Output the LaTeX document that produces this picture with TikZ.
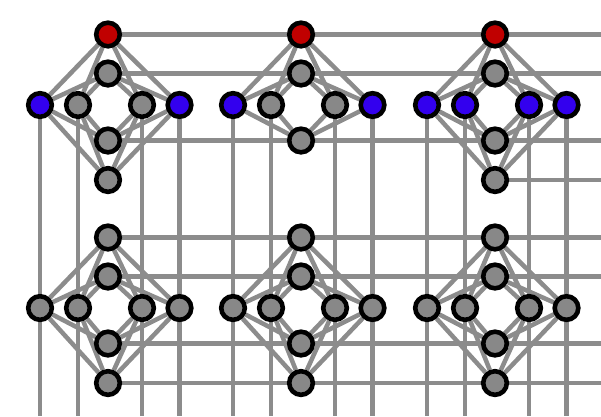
\documentclass[tikz,border=0pt]{standalone}
\usepackage{xcolor}
\usetikzlibrary{positioning, backgrounds}
\definecolor{qubitred}{RGB}{192,0,0}
\definecolor{qubitblue}{RGB}{51,0,238}
\definecolor{qubitgray}{RGB}{136,136,136}
\definecolor{couplergray}{RGB}{140,140,140}

\begin{document}
\begin{tikzpicture}[x=1pt, y=-1pt,
    qubit/.style={circle, draw=black, line width=4.6pt, fill=qubitgray, minimum size=23.6pt, inner sep=0pt},
    coupler/.style={draw=couplergray, line width=4.5pt}]
    \useasboundingbox (0,0) rectangle (601,416);
    \coordinate (east) at (601,0);
    \coordinate (south) at (0,416);

    % Qubits of each unit cell: row qubits (h) and column qubits (v)
    \foreach \r/\ry in {0/105, 1/308} {
        \foreach \c/\cx in {0/108, 1/301, 2/495} {
            \foreach \k/\dx in {1/-68, 2/-30, 3/34, 4/71.5} {
                \def\qcol{qubitgray}
                \ifnum\r=0
                    \ifnum\k=1 \def\qcol{qubitblue}\fi
                    \ifnum\k=4 \def\qcol{qubitblue}\fi
                    \ifnum\c=2 \def\qcol{qubitblue}\fi
                \fi
                \node[qubit, fill=\qcol] (h-\r-\c-\k) at (\cx+\dx, \ry) {};
            }
            \foreach \k/\dy in {1/-70.5, 2/-31.5, 3/35.5, 4/75} {
                \def\qcol{qubitgray}
                \ifnum\r=0 \ifnum\k=1 \def\qcol{qubitred}\fi\fi
                \ifnum\r\c\k=014 \else
                    \node[qubit, fill=\qcol] (v-\r-\c-\k) at (\cx, \ry+\dy) {};
                \fi
            }
        }
    }

    \begin{scope}[on background layer]
        % Couplers inside each cell
        \foreach \r in {0,1} {
            \foreach \c in {0,1,2} {
                \foreach \k in {1,...,4} {
                    \foreach \l in {1,...,4} {
                        \ifnum\r\c\k=014 \else
                            \draw[coupler] (v-\r-\c-\k) -- (h-\r-\c-\l);
                        \fi
                    }
                }
            }
        }
        % Couplers between cells, left to right
        \foreach \r in {0,1} {
            \foreach \k in {1,...,4} {
                \ifnum\r\k=04
                    \draw[coupler] (v-\r-2-\k) -- (v-\r-2-\k -| east);
                \else
                    \draw[coupler] (v-\r-0-\k) -- (v-\r-1-\k) -- (v-\r-2-\k) -- (v-\r-2-\k -| east);
                \fi
            }
        }
        % Couplers between cells, top to bottom
        \foreach \c in {0,1,2} {
            \foreach \k in {1,...,4} {
                \draw[coupler] (h-0-\c-\k) -- (h-1-\c-\k) -- (h-1-\c-\k |- south);
            }
        }
    \end{scope}
\end{tikzpicture}
\end{document}
